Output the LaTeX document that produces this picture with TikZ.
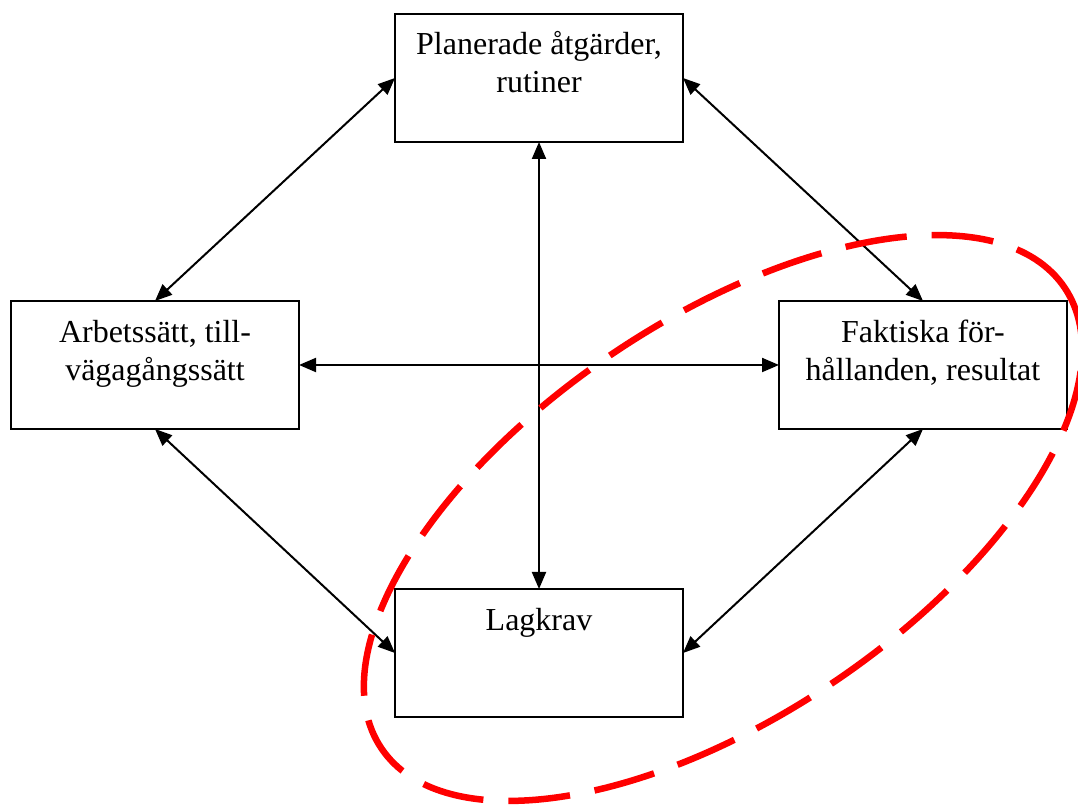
\documentclass[tikz,border=0pt]{standalone}
\usepackage{fontspec}
\setmainfont{Liberation Serif}
\usetikzlibrary{arrows.meta}
\begin{document}
\begin{tikzpicture}[x=1pt,y=1pt,
  box/.style={draw,line width=2.2pt,minimum width=288pt,minimum height=128pt,outer sep=0pt,inner sep=0pt},
  lbl/.style={anchor=north,inner sep=0pt,align=center,font=\fontsize{32}{38}\selectfont},
  conn/.style={line width=2pt,{Triangle[length=17pt,width=14pt]}-{Triangle[length=17pt,width=14pt]}},
  redring/.style={draw=red,line width=6.5pt,dash pattern=on 62pt off 25pt}]
\useasboundingbox (0,0) rectangle (1078,811);
\node[box] (top) at (539,733) {};
\node[box] (left) at (155,446) {};
\node[box] (right) at (923,446) {};
\node[box] (bottom) at (539,158) {};
\node[lbl] (topt) at ([yshift=-13.4pt]top.north) {\strut Planerade åtgärder,\\rutiner};
\node[lbl] (leftt) at ([yshift=-15pt]left.north) {\strut Arbetssätt, till-\\vägagångssätt};
\node[lbl] (rightt) at ([yshift=-15pt]right.north) {\strut Faktiska för-\\hållanden, resultat};
\node[lbl] (bottomt) at ([yshift=-15pt]bottom.north) {\strut Lagkrav};
\draw[conn] (top.west) -- (left.north);
\draw[conn] (top.east) -- (right.north);
\draw[conn] (top.south) -- (bottom.north);
\draw[conn] (left.east) -- (right.west);
\draw[conn] (left.south) -- (bottom.west);
\draw[conn] (right.south) -- (bottom.east);
\draw[redring] (723,293) ellipse[x radius=412pt,y radius=198pt,rotate=34];
\end{tikzpicture}
\end{document}
